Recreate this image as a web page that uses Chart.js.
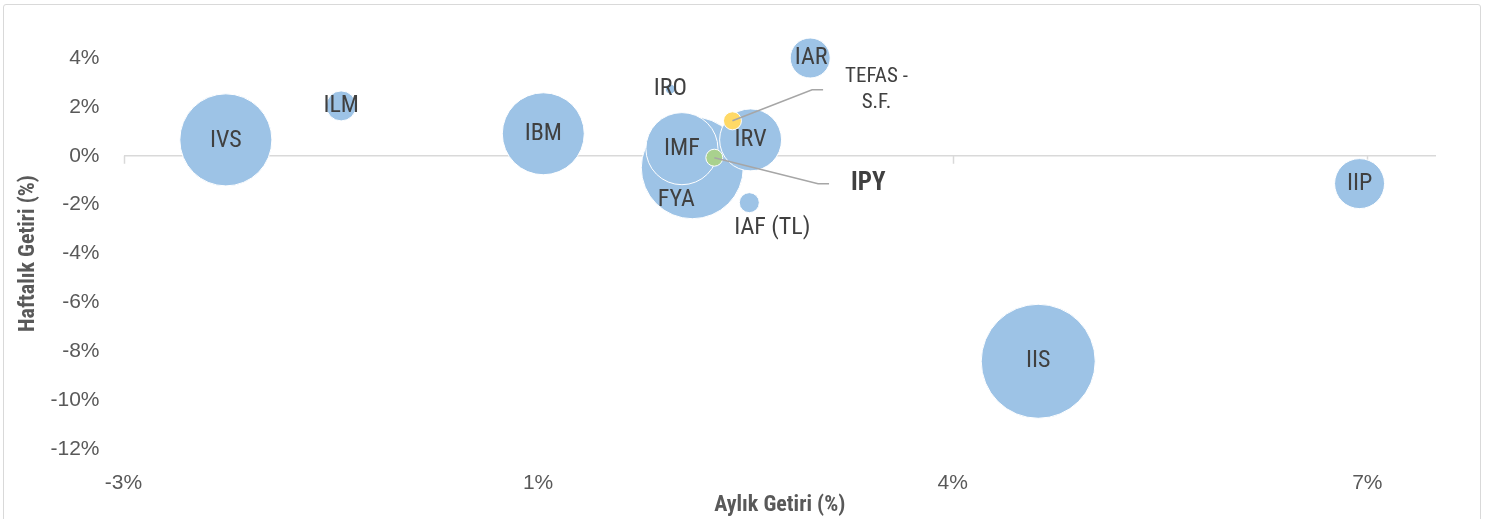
<!DOCTYPE html>
<html lang="tr">
<head>
<meta charset="utf-8">
<title>Aylık / Haftalık Getiri</title>
<script src="https://cdn.jsdelivr.net/npm/chart.js@4.4.1/dist/chart.umd.min.js"></script>
<style>
  html, body { margin: 0; padding: 0; background: #fff; overflow: hidden; }
  #wrap { position: relative; width: 1494px; height: 519px; }
  #frame { position: absolute; left: 3px; top: 4px; width: 1476px; height: 560px; border: 1px solid #d9d9d9; border-radius: 3px; }
  canvas { position: absolute; left: 0; top: 0; }
</style>
</head>
<body>
<div id="wrap">
  <div id="frame"></div>
  <canvas id="chart" width="1494" height="519"></canvas>
</div>
<script>
// Fonlar - büyükten küçüğe sıralı, küçük balonlar üstte kalsın
const fonlar = ['IIS', 'FYA', 'IVS', 'IBM', 'IMF', 'IRV', 'IIP', 'IAR', 'ILM', 'IAF (TL)', 'IRO'];
const aylikGetiri = [4.46, 1.79, -1.81, 0.64, 1.71, 2.24, 6.94, 2.70, -0.92, 2.23, 1.62];
const haftalikGetiri = [-8.41, -0.49, 0.65, 0.90, 0.29, 0.65, -1.14, 4.00, 2.04, -1.92, 2.73];
const buyukluk = [3250, 2600, 2120, 1680, 1300, 960, 625, 400, 225, 100, 25];

// Karşılaştırma serileri
const tefasAylik = [2.10];
const tefasHaftalik = [1.43];
const tefasBuyukluk = [81];
const ipyAylik = [1.96];
const ipyHaftalik = [-0.08];
const ipyBuyukluk = [72];

// Eksen ölçekleri
const xTikler = [-2.6, 0.6, 3.8, 7.0];
const xMin = -2.6, xMax = 7.53;
const yMin = -12, yMax = 4, yAdim = 2;

const MAKS_YARICAP = 57;
const maksBuyukluk = Math.max(...buyukluk, ...tefasBuyukluk, ...ipyBuyukluk);
const yaricap = v => MAKS_YARICAP * Math.sqrt(v / maksBuyukluk);

function noktalar(xs, ys, ss) {
    return xs.map((x, i) => ({ x: x, y: ys[i], r: yaricap(ss[i]) }));
}

// etiket kaydırmaları (piksel)
const etiketKaydir = { 'FYA': [-16, 32], 'IAF (TL)': [23, 25], 'IAR': [1, 0], 'IVS': [0, 1] };

const NARROW = "'Liberation Sans Narrow', 'Arial Narrow', 'Roboto Condensed', 'Liberation Sans', sans-serif";
const NORMAL = "'Liberation Sans', Arial, sans-serif";
const YAZI = '#404040';
const GRI = '#595959';

const etiketler = {
    id: 'etiketler',
    beforeDatasetsDraw(chart) {
        // sıfır çizgisi üzerindeki x ekseni çentikleri
        const { ctx, scales: { x, y } } = chart;
        const y0 = y.getPixelForValue(0);
        ctx.save();
        ctx.strokeStyle = '#d9d9d9';
        ctx.lineWidth = 1.5;
        x.ticks.forEach(t => {
            const px = Math.round(x.getPixelForValue(t.value)) + 0.5;
            ctx.beginPath();
            ctx.moveTo(px, y0);
            ctx.lineTo(px, y0 + 8);
            ctx.stroke();
        });
        ctx.restore();
    },
    afterDatasetsDraw(chart) {
        const { ctx } = chart;
        ctx.save();
        ctx.textAlign = 'center';
        ctx.textBaseline = 'middle';
        ctx.fillStyle = YAZI;

        // fon etiketleri
        ctx.font = '24px ' + NARROW;
        chart.getDatasetMeta(0).data.forEach((el, i) => {
            const ad = fonlar[i];
            const k = etiketKaydir[ad] || [0, 0];
            ctx.fillText(ad, el.x + k[0], el.y + k[1]);
        });

        // kılavuz çizgili etiketler
        function kilavuzlu(el, satirlar, font, dx, dy, satirYuk) {
            ctx.font = font;
            const lx = el.x + dx, ly = el.y + dy;
            const w = Math.max(...satirlar.map(s => ctx.measureText(s).width));
            const sol = lx - w / 2;
            ctx.strokeStyle = '#a6a6a6';
            ctx.lineWidth = 1.5;
            ctx.beginPath();
            ctx.moveTo(el.x, el.y);
            ctx.lineTo(sol - 33, ly);
            ctx.lineTo(sol - 22, ly);
            ctx.stroke();
            const y0 = ly - (satirlar.length - 1) * satirYuk / 2;
            satirlar.forEach((s, j) => ctx.fillText(s, lx, y0 + j * satirYuk));
        }
        kilavuzlu(chart.getDatasetMeta(1).data[0], ['TEFAS -', 'S.F.'], '21px ' + NARROW, 144, -31, 26);
        kilavuzlu(chart.getDatasetMeta(2).data[0], ['IPY'], 'bold 25px ' + NARROW, 154, 26, 26);
        ctx.restore();
    }
};

new Chart(document.getElementById('chart'), {
    type: 'bubble',
    data: {
        datasets: [
            {
                label: 'Fonlar',
                data: noktalar(aylikGetiri, haftalikGetiri, buyukluk),
                backgroundColor: '#9dc3e6',
                borderColor: '#ffffff',
                borderWidth: 1,
                clip: false,
                order: 2
            },
            {
                label: 'TEFAS - S.F.',
                data: noktalar(tefasAylik, tefasHaftalik, tefasBuyukluk),
                backgroundColor: '#ffd966',
                borderColor: '#ffffff',
                borderWidth: 1,
                clip: false,
                order: 1
            },
            {
                label: 'IPY',
                data: noktalar(ipyAylik, ipyHaftalik, ipyBuyukluk),
                backgroundColor: '#a9d18e',
                borderColor: '#ffffff',
                borderWidth: 1,
                clip: false,
                order: 0
            }
        ]
    },
    options: {
        responsive: false,
        animation: false,
        devicePixelRatio: 1,
        layout: { padding: { top: 57, right: 52, left: 0, bottom: 0 } },
        plugins: {
            legend: { display: false },
            tooltip: { enabled: false }
        },
        scales: {
            x: {
                type: 'linear',
                position: 'bottom',
                min: xMin,
                max: xMax,
                afterBuildTicks: s => { s.ticks = xTikler.map(v => ({ value: v })); },
                afterFit: s => { s.height = 70; },
                grid: { display: false, drawTicks: false },
                border: { display: false },
                ticks: {
                    padding: 22,
                    color: GRI,
                    font: { family: NORMAL, size: 21 },
                    callback: v => Math.round(v) + '%'
                },
                title: {
                    display: true,
                    text: 'Aylık Getiri (%)',
                    color: GRI,
                    font: { family: NARROW, size: 22, weight: 'bold' },
                    padding: { top: 0, bottom: 0 }
                }
            },
            y: {
                type: 'linear',
                min: yMin,
                max: yMax,
                afterFit: s => { s.width = 123.5; },
                grid: {
                    drawTicks: false,
                    lineWidth: 1.5,
                    color: c => c.tick && c.tick.value === 0 ? '#d9d9d9' : 'rgba(0,0,0,0)'
                },
                border: { display: false },
                ticks: {
                    stepSize: yAdim,
                    padding: 24,
                    color: GRI,
                    font: { family: NORMAL, size: 21 },
                    callback: v => v + '%'
                },
                title: {
                    display: true,
                    text: 'Haftalık Getiri (%)',
                    color: GRI,
                    font: { family: NARROW, size: 22, weight: 'bold' },
                    padding: { top: 15, bottom: 0 }
                }
            }
        }
    },
    plugins: [etiketler]
});
</script>
</body>
</html>
